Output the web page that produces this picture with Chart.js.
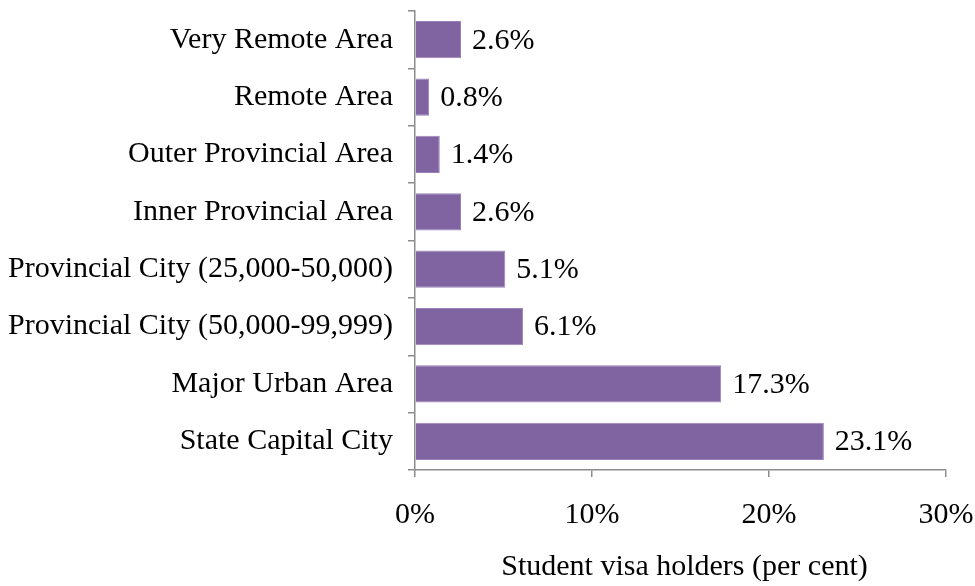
<!DOCTYPE html>
<html>
<head>
<meta charset="utf-8">
<script src="https://cdn.jsdelivr.net/npm/chart.js@4"></script>
<style>
  html, body { margin: 0; padding: 0; background: #fff; }
  #wrap { width: 975px; height: 586px; position: relative; }
</style>
</head>
<body>
<div id="wrap"><canvas id="c" width="975" height="586"></canvas></div>
<script>
const categories = [
  "Very Remote Area",
  "Remote Area",
  "Outer Provincial Area",
  "Inner Provincial Area",
  "Provincial City (25,000-50,000)",
  "Provincial City (50,000-99,999)",
  "Major Urban Area",
  "State Capital City"
];
const values = [2.6, 0.8, 1.4, 2.6, 5.1, 6.1, 17.3, 23.1];
const xTicks = [0, 10, 20, 30];
const axisTitle = "Student visa holders (per cent)";

const FONT = "'Liberation Serif', 'Times New Roman', serif";
const FS = 30;
const AXIS_COLOR = "#8c8c8c";

const labelPlugin = {
  id: 'barLabels',
  afterDatasetsDraw(chart) {
    const ctx = chart.ctx;
    const meta = chart.getDatasetMeta(0);
    ctx.save();
    ctx.font = FS + "px " + FONT;
    ctx.fillStyle = "#000";
    ctx.textAlign = "left";
    ctx.textBaseline = "middle";
    meta.data.forEach((bar, i) => {
      ctx.fillText(values[i].toFixed(1) + "%", bar.x + 11, bar.y + 1);
    });
    ctx.restore();
  }
};

const titlePlugin = {
  id: 'axisTitle',
  afterDraw(chart) {
    const ctx = chart.ctx;
    const xs = chart.scales.x;
    ctx.save();
    ctx.font = FS + "px " + FONT;
    ctx.fillStyle = "#000";
    ctx.textAlign = "center";
    ctx.textBaseline = "middle";
    ctx.fillText(axisTitle, (xs.left + xs.right) / 2 + 4, 567);
    ctx.restore();
  }
};

new Chart(document.getElementById('c'), {
  type: 'bar',
  data: {
    labels: categories,
    datasets: [{
      data: values,
      backgroundColor: '#8064A2',
      borderColor: '#9a82b8',
      borderWidth: 1,
      categoryPercentage: 1,
      barPercentage: 0.65
    }]
  },
  options: {
    indexAxis: 'y',
    responsive: false,
    animation: false,
    devicePixelRatio: 1,
    layout: { padding: { top: 11, right: 29, bottom: 0, left: 0 } },
    plugins: { legend: { display: false }, tooltip: { enabled: false } },
    scales: {
      x: {
        min: 0, max: 30,
        afterBuildTicks(scale) { scale.ticks = xTicks.map(v => ({ value: v })); },
        afterFit(scale) {
          scale.height = 116;
          scale.paddingLeft = 0; scale.paddingRight = 0;
        },
        ticks: {
          color: '#000',
          font: { family: FONT, size: FS },
          padding: 20,
          callback: v => v + '%',
          maxRotation: 0
        },
        grid: { drawOnChartArea: false, drawTicks: true, tickLength: 7, color: AXIS_COLOR, lineWidth: 1.5 },
        border: { display: true, color: AXIS_COLOR, width: 1.5 }
      },
      y: {
        afterFit(scale) {
          scale.width = 415;
          scale.paddingTop = 0; scale.paddingBottom = 0;
        },
        ticks: {
          color: '#000',
          font: { family: FONT, size: FS },
          padding: 15,
          autoSkip: false
        },
        grid: { offset: true, drawOnChartArea: false, drawTicks: true, tickLength: 7, color: AXIS_COLOR, lineWidth: 1.5 },
        border: { display: true, color: AXIS_COLOR, width: 1.5 }
      }
    }
  },
  plugins: [labelPlugin, titlePlugin]
});
</script>
</body>
</html>
